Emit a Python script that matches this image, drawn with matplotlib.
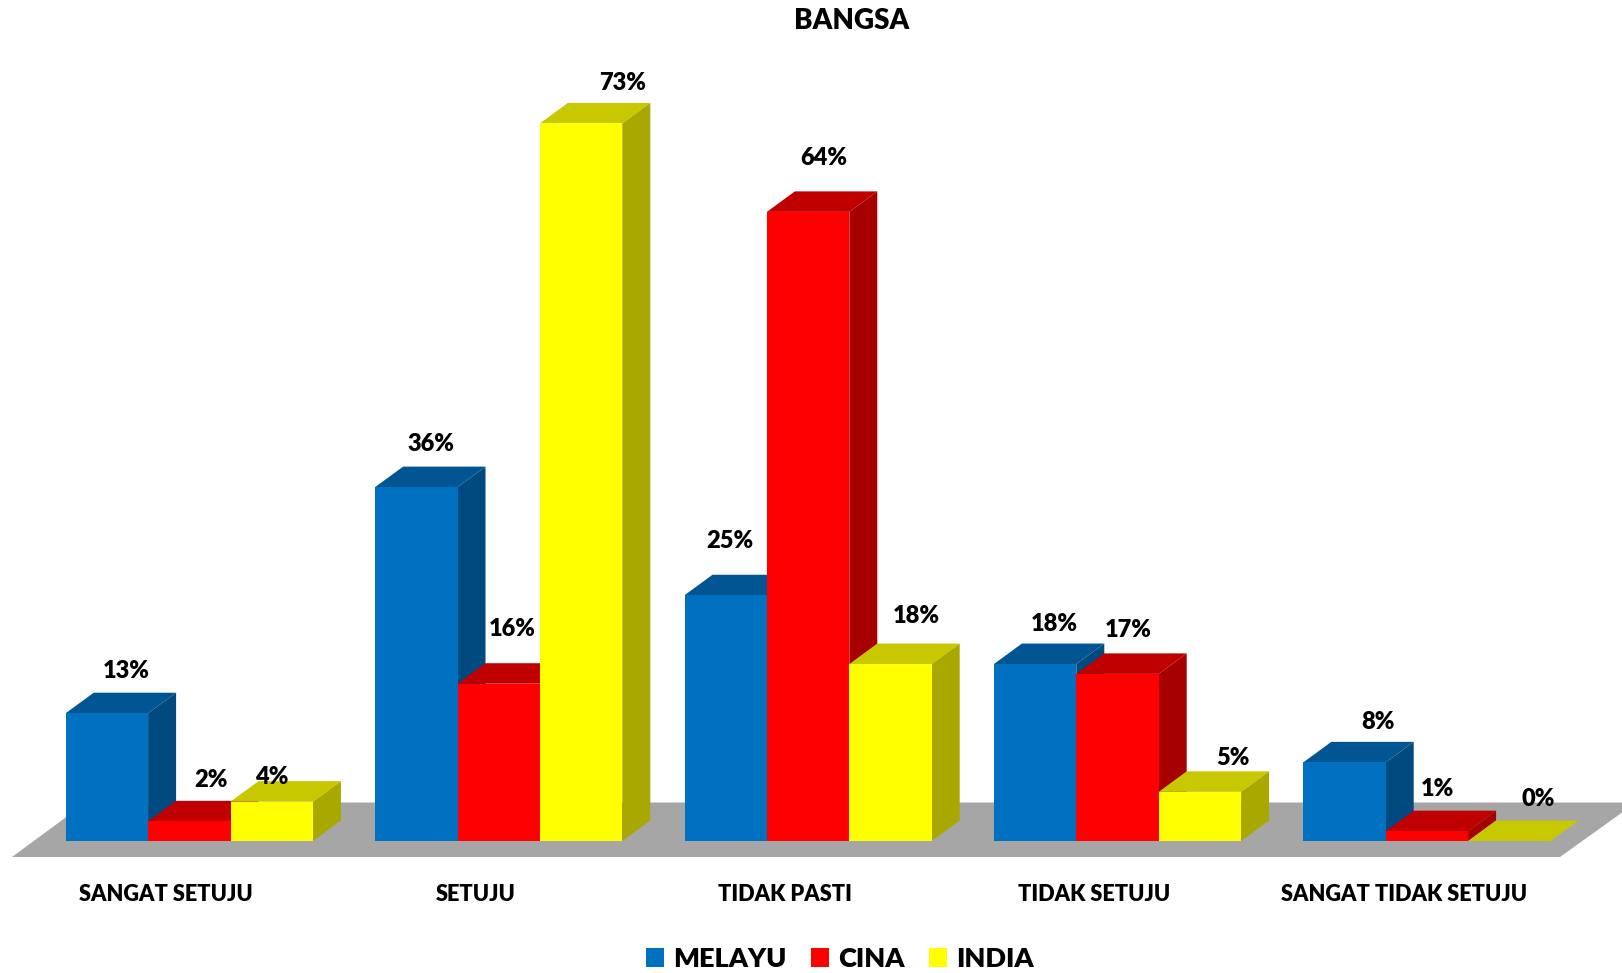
import numpy as np
import matplotlib
matplotlib.use('Agg')
import matplotlib.pyplot as plt
from matplotlib.patches import Patch

categories = ['SANGAT SETUJU', 'SETUJU', 'TIDAK PASTI', 'TIDAK SETUJU', 'SANGAT TIDAK SETUJU']
melayu = [13, 36, 25, 18, 8]
cina = [2, 16, 64, 17, 1]
india = [4, 73, 18, 5, 0]

series_names = ['MELAYU', 'CINA', 'INDIA']
front_colors = ['#0070C0', '#FF0000', '#FFFF00']
top_colors = ['#005592', '#C00000', '#C8C800']
side_colors = ['#004A80', '#A60000', '#A8A800']

# hand placed value labels in the original, pixels from the bar top centre
label_offsets = [
	[(19, 42), (15, 43), (4, 54), (19, 40), (33, 40)],
	[(22, 41), (14, 55), (16, 54), (11, 44), (11, 42)],
	[(0, 25), (41, 40), (26, 48), (33, 34), (29, 42)],
]

W, H = 1622, 973
BASE = 841.0
PX_PER_PCT = 9.83
SPACING = 309.4
BAR_W = 82.4 / SPACING
DX = 28 / SPACING
DY = 20.5 / PX_PER_PCT
WEIGHT = 800

plt.rcParams['font.family'] = ['Lato', 'DejaVu Sans']

fig = plt.figure(figsize=(W / 100, H / 100), dpi=100)
ax = fig.add_axes([0, (H - BASE) / H, 1, BASE / H])
x0 = 189.3 / SPACING
ax.set_xlim(-x0, W / SPACING - x0)
ax.set_ylim(0, BASE / PX_PER_PCT)
for s in ax.spines.values():
	s.set_visible(False)
ax.yaxis.set_visible(False)

x = np.arange(len(categories))

# grey floor, in data units so that it follows the bars
fx = lambda px: px / SPACING - x0
fy = lambda py: (BASE - py) / PX_PER_PCT
ax.fill([fx(12), fx(1560), fx(1636), fx(86)],
	[fy(857), fy(857), fy(802.5), fy(802.5)],
	color='#A6A6A6', lw=0, clip_on=False, zorder=1)

for i, vals in enumerate([melayu, cina, india]):
	pos = x + (i - 1) * BAR_W
	z = 2 + i
	bars = ax.bar(pos, vals, BAR_W, color=front_colors[i], lw=0, zorder=z + 0.5)
	for j, b in enumerate(bars):
		l, r, t = b.get_x(), b.get_x() + b.get_width(), b.get_height()
		ax.fill([l, r, r + DX, l + DX], [t, t, t + DY, t + DY],
			color=top_colors[i], lw=0, zorder=z)
		if t > 0:
			ax.fill([r, r + DX, r + DX, r], [0, DY, t + DY, t],
				color=side_colors[i], lw=0, zorder=z)
		ax.annotate('{}%'.format(vals[j]), (pos[j], t),
			xytext=label_offsets[i][j], textcoords='offset pixels',
			ha='center', va='center', fontsize=17, fontweight=WEIGHT,
			color='black', zorder=10)

ax.set_xticks(x - 23 / SPACING)
ax.set_xticklabels(categories, fontsize=15.7, fontweight=WEIGHT)
ax.tick_params(axis='x', length=0, pad=31)

handles = [Patch(color=c, lw=0) for c in front_colors]
fig.legend(handles, series_names, loc='center', bbox_to_anchor=(840 / W, 1 - 959 / H),
	ncol=3, frameon=False, handlelength=0.65, handleheight=0.65,
	handletextpad=0.35, columnspacing=0.9,
	prop={'family': 'Lato', 'weight': WEIGHT, 'size': 19.5})

fig.text(852 / W, 1 - 21 / H, 'BANGSA', ha='center', va='center',
	fontsize=20, fontweight=WEIGHT)

fig.savefig('out.png', dpi=100)
